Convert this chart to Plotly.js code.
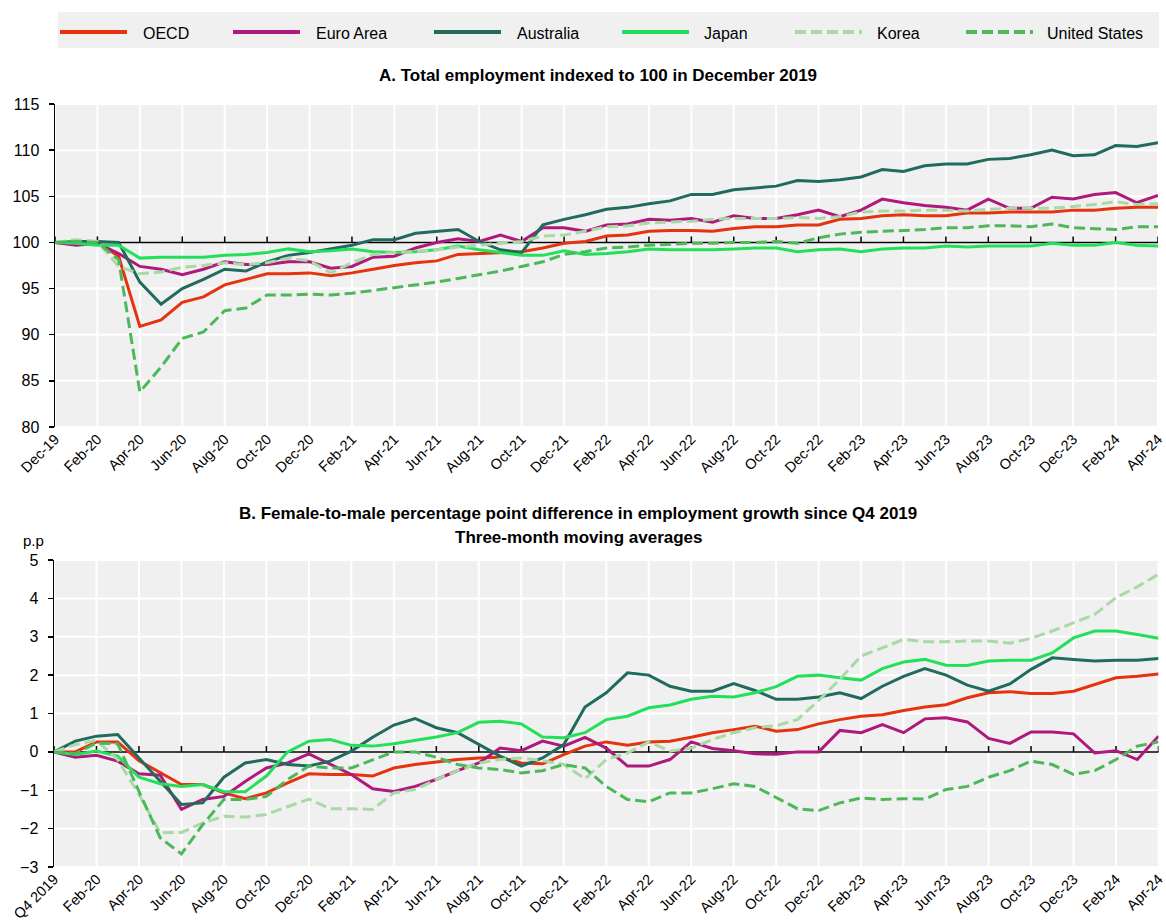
<!DOCTYPE html>
<html>
<head>
<meta charset="utf-8">
<script src="https://cdn.plot.ly/plotly-3.0.1.min.js"></script>
<style>html,body{margin:0;padding:0;background:#fff;}#chart{width:1166px;height:922px;}</style>
</head>
<body>
<div id="chart"></div>
<script>
// ---------- DATA ----------
const months = ['Dec-19','Jan-20','Feb-20','Mar-20','Apr-20','May-20','Jun-20','Jul-20','Aug-20','Sep-20','Oct-20','Nov-20','Dec-20',
  'Jan-21','Feb-21','Mar-21','Apr-21','May-21','Jun-21','Jul-21','Aug-21','Sep-21','Oct-21','Nov-21','Dec-21',
  'Jan-22','Feb-22','Mar-22','Apr-22','May-22','Jun-22','Jul-22','Aug-22','Sep-22','Oct-22','Nov-22','Dec-22',
  'Jan-23','Feb-23','Mar-23','Apr-23','May-23','Jun-23','Jul-23','Aug-23','Sep-23','Oct-23','Nov-23','Dec-23',
  'Jan-24','Feb-24','Mar-24','Apr-24'];
const tickLabelsA = ['Dec-19','Feb-20','Apr-20','Jun-20','Aug-20','Oct-20','Dec-20','Feb-21','Apr-21','Jun-21','Aug-21','Oct-21','Dec-21',
  'Feb-22','Apr-22','Jun-22','Aug-22','Oct-22','Dec-22','Feb-23','Apr-23','Jun-23','Aug-23','Oct-23','Dec-23','Feb-24','Apr-24'];
const tickLabelsB = ['Q4 2019','Feb-20','Apr-20','Jun-20','Aug-20','Oct-20','Dec-20','Feb-21','Apr-21','Jun-21','Aug-21','Oct-21','Dec-21',
  'Feb-22','Apr-22','Jun-22','Aug-22','Oct-22','Dec-22','Feb-23','Apr-23','Jun-23','Aug-23','Oct-23','Dec-23','Feb-24','Apr-24'];
const yTicksA = [80, 85, 90, 95, 100, 105, 110, 115];
const yTicksB = [-3, -2, -1, 0, 1, 2, 3, 4, 5];

const seriesNames = ['OECD','Euro Area','Australia','Japan','Korea','United States'];

// Panel A: total employment, index Dec 2019 = 100
const oecdA = [100,99.9,100,98.5,90.9,91.6,93.5,94.1,95.4,96.0,96.6,96.6,96.7,96.4,96.7,97.1,97.5,
  97.8,98.0,98.7,98.8,98.9,99.0,99.4,99.9,100.1,100.7,100.8,101.2,101.3,101.3,101.2,101.5,101.7,101.7,
  101.9,101.9,102.5,102.6,102.9,103.0,102.9,102.9,103.2,103.2,103.3,103.3,103.3,103.5,103.5,103.7,103.8,103.8];
const euroA = [100,99.7,99.9,98.8,97.4,97.1,96.5,97.1,97.9,97.6,97.6,97.9,97.9,97.2,97.4,98.4,98.5,
  99.4,100.0,100.4,100.1,100.8,100.1,101.6,101.6,101.2,101.9,102.0,102.5,102.4,102.6,102.2,102.9,102.6,102.6,
  103.0,103.5,102.8,103.5,104.7,104.3,104.0,103.8,103.5,104.7,103.7,103.7,104.9,104.7,105.2,105.4,104.3,105.1];
const australiaA = [100,100.1,100.1,100.0,95.7,93.3,95.0,96.0,97.1,96.9,97.9,98.6,98.9,99.3,99.7,100.3,100.3,
  101.0,101.2,101.4,100.1,99.2,98.9,101.9,102.5,103.0,103.6,103.8,104.2,104.5,105.2,105.2,105.7,105.9,106.1,
  106.7,106.6,106.8,107.1,107.9,107.7,108.3,108.5,108.5,109.0,109.1,109.5,110.0,109.4,109.5,110.5,110.4,110.8];
const japanA = [100,99.9,99.7,99.7,98.3,98.4,98.4,98.4,98.6,98.7,98.9,99.3,99.0,99.1,99.3,99.0,98.9,
  99.0,99.2,99.6,99.2,98.9,98.6,98.6,99.1,98.7,98.8,99.0,99.3,99.2,99.2,99.2,99.3,99.4,99.4,
  99.0,99.2,99.3,99.0,99.3,99.4,99.4,99.6,99.5,99.6,99.6,99.6,99.9,99.7,99.7,100.0,99.7,99.6];
const koreaA = [100,100.3,100.1,97.4,96.6,96.8,97.3,97.5,97.8,97.6,97.8,98.3,98.0,96.7,97.8,98.7,98.9,
  99.0,99.2,99.5,99.7,99.9,100.1,100.7,100.8,101.2,101.7,101.8,102.1,102.2,102.3,102.5,102.6,102.6,102.6,
  102.7,102.6,102.8,103.3,103.4,103.4,103.5,103.5,103.4,103.6,103.7,103.7,103.7,103.9,104.1,104.4,104.1,104.2];
const usA = [100,100.1,100.0,98.1,83.8,86.5,89.6,90.3,92.6,92.9,94.3,94.3,94.4,94.3,94.5,94.8,95.1,
  95.4,95.7,96.1,96.5,96.9,97.4,97.9,98.7,99.0,99.4,99.5,99.7,99.8,99.9,99.9,100.0,100.0,100.1,
  99.9,100.5,100.9,101.1,101.2,101.3,101.4,101.6,101.6,101.8,101.8,101.7,102.0,101.6,101.5,101.4,101.7,101.7];

// Panel B: female-to-male p.p. difference, 3-month moving averages
const oecdB = [0,0.0,0.26,0.26,-0.23,-0.55,-0.85,-0.85,-1.07,-1.22,-1.07,-0.81,-0.57,-0.59,-0.59,-0.63,-0.42,
  -0.33,-0.26,-0.2,-0.16,-0.14,-0.29,-0.31,-0.07,0.15,0.26,0.17,0.26,0.28,0.38,0.50,0.58,0.67,0.54,
  0.58,0.73,0.84,0.93,0.97,1.08,1.17,1.23,1.41,1.54,1.57,1.52,1.52,1.58,1.76,1.93,1.97,2.03];
const euroB = [0,-0.14,-0.09,-0.24,-0.57,-0.61,-1.50,-1.24,-1.16,-0.77,-0.42,-0.29,-0.05,-0.33,-0.59,-0.96,-1.03,
  -0.9,-0.72,-0.49,-0.29,0.1,0.03,0.28,0.15,0.38,0.1,-0.37,-0.37,-0.2,0.26,0.09,0.03,-0.05,-0.06,
  0.0,0.0,0.56,0.50,0.71,0.50,0.86,0.89,0.78,0.35,0.22,0.52,0.52,0.47,-0.03,0.03,-0.2,0.41];
const australiaB = [0,0.28,0.41,0.45,-0.16,-0.77,-1.37,-1.33,-0.66,-0.29,-0.2,-0.33,-0.37,-0.24,0.02,0.38,0.70,
  0.87,0.63,0.50,0.19,-0.11,-0.37,-0.16,0.19,1.17,1.54,2.06,2.0,1.71,1.58,1.58,1.78,1.6,1.37,
  1.37,1.43,1.54,1.39,1.71,1.97,2.17,2.0,1.74,1.58,1.77,2.15,2.45,2.41,2.37,2.39,2.39,2.43];
const japanB = [0,-0.07,0.02,-0.11,-0.66,-0.83,-0.90,-0.85,-1.04,-1.04,-0.63,0.0,0.28,0.32,0.17,0.15,0.21,
  0.3,0.39,0.50,0.77,0.8,0.73,0.39,0.37,0.50,0.84,0.93,1.15,1.22,1.37,1.45,1.43,1.54,1.7,
  1.97,2.0,1.93,1.87,2.17,2.34,2.41,2.26,2.25,2.37,2.39,2.39,2.58,2.97,3.15,3.15,3.06,2.96];
const koreaB = [0,0.19,0.3,-0.2,-1.11,-2.11,-2.10,-1.85,-1.68,-1.70,-1.63,-1.42,-1.23,-1.48,-1.48,-1.50,-1.07,
  -0.98,-0.72,-0.49,-0.29,-0.2,-0.16,-0.23,-0.33,-0.70,-0.2,-0.03,0.26,0.02,0.1,0.32,0.5,0.63,0.68,
  0.84,1.34,1.89,2.5,2.71,2.93,2.87,2.87,2.89,2.89,2.83,2.96,3.15,3.37,3.58,4.02,4.30,4.63];
const usB = [0,-0.05,0.23,0.21,-1.03,-2.24,-2.66,-1.90,-1.24,-1.24,-1.16,-0.72,-0.37,-0.42,-0.42,-0.2,0.0,
  0.0,-0.14,-0.33,-0.42,-0.46,-0.55,-0.49,-0.33,-0.42,-0.9,-1.24,-1.30,-1.07,-1.07,-0.96,-0.83,-0.9,-1.2,
  -1.48,-1.53,-1.33,-1.2,-1.24,-1.22,-1.23,-0.98,-0.9,-0.66,-0.49,-0.24,-0.33,-0.59,-0.49,-0.2,0.15,0.26];

// ---------- STYLE ----------
const W = 1166, H = 922;
const px = v => v / W;
const py = v => 1 - v / H;
const FONT = '"Liberation Sans", Arial, sans-serif';
const colors = ['#E5330E', '#B0197C', '#216B5E', '#22E05A', '#A9D9A4', '#4DB85A'];
const dashes = ['solid', 'solid', 'solid', 'solid', '11px,5px', '11px,5px'];
const panelA = [oecdA, euroA, australiaA, japanA, koreaA, usA];
const panelB = [oecdB, euroB, australiaB, japanB, koreaB, usB];
const monthsB = months.map((m, i) => i === 0 ? tickLabelsB[0] : m);

const traces = [];
seriesNames.forEach((name, k) => {
  traces.push({x: months, y: panelA[k], xaxis: 'x', yaxis: 'y', type: 'scatter', mode: 'lines', name: name,
    showlegend: false, line: {color: colors[k], width: 3, dash: dashes[k]}});
});
seriesNames.forEach((name, k) => {
  traces.push({x: monthsB, y: panelB[k], xaxis: 'x2', yaxis: 'y2', type: 'scatter', mode: 'lines', name: name,
    showlegend: false, line: {color: colors[k], width: 3, dash: dashes[k]}});
});

const shapes = [];
const annotations = [];
// grid (white), then baseline (100 / 0) with upward ticks, all beneath the traces
function panelDecor(xref, yref, yTicks, cats, yval) {
  yTicks.forEach(v => shapes.push({type: 'line', xref: xref + ' domain', yref: yref, x0: 0, x1: 1, y0: v, y1: v,
    line: {color: '#FFFFFF', width: 2}, layer: 'below'}));
  cats.forEach(c => shapes.push({type: 'line', xref: xref, yref: yref + ' domain', x0: c, x1: c, y0: 0, y1: 1,
    line: {color: '#FFFFFF', width: 2}, layer: 'below'}));
  shapes.push({type: 'line', xref: xref + ' domain', yref: yref, x0: 0, x1: 1, y0: yval, y1: yval,
    line: {color: '#000', width: 1.5}, layer: 'below'});
  cats.forEach(c => shapes.push({type: 'line', xref: xref, yref: yref, x0: c, x1: c,
    ysizemode: 'pixel', yanchor: yval, y0: 0, y1: 6, line: {color: '#000', width: 1.5}, layer: 'below'}));
}
panelDecor('x', 'y', yTicksA, tickLabelsA, 100);
panelDecor('x2', 'y2', yTicksB, tickLabelsB, 0);

// custom legend
shapes.push({type: 'rect', xref: 'paper', yref: 'paper', x0: px(58), x1: px(1159), y0: py(48), y1: py(12),
  fillcolor: '#F0F0F0', line: {width: 0}, layer: 'below'});
const legLineStart = [60, 233, 434, 622, 795, 966];
const legTextStart = [141, 314, 515, 702, 875, 1045];
seriesNames.forEach((name, k) => {
  shapes.push({type: 'line', xref: 'paper', yref: 'paper', x0: px(legLineStart[k]), x1: px(legLineStart[k] + 67),
    y0: py(32), y1: py(32), line: {color: colors[k], width: 4, dash: dashes[k]}, layer: 'above'});
  annotations.push({xref: 'paper', yref: 'paper', x: px(legTextStart[k]), y: py(33), xanchor: 'left', yanchor: 'middle',
    text: name, showarrow: false, font: {family: FONT, size: 16, color: '#000'}});
});

// titles
const TSIZE = 17;
annotations.push({xref: 'paper', yref: 'paper', x: px(598), y: py(75), xanchor: 'center', yanchor: 'middle',
  text: '<b>A. Total employment indexed to 100 in December 2019</b>', showarrow: false,
  font: {family: FONT, size: TSIZE, color: '#000'}});
annotations.push({xref: 'paper', yref: 'paper', x: px(578), y: py(513), xanchor: 'center', yanchor: 'middle',
  text: '<b>B. Female-to-male percentage point difference in employment growth since Q4 2019</b>', showarrow: false,
  font: {family: FONT, size: TSIZE, color: '#000'}});
annotations.push({xref: 'paper', yref: 'paper', x: px(579), y: py(537), xanchor: 'center', yanchor: 'middle',
  text: '<b>Three-month moving averages</b>', showarrow: false,
  font: {family: FONT, size: TSIZE, color: '#000'}});
annotations.push({xref: 'paper', yref: 'paper', x: px(33), y: py(540), xanchor: 'center', yanchor: 'middle',
  text: 'p.p', showarrow: false, font: {family: FONT, size: 15, color: '#000'}});

const xCommon = {type: 'category', tickmode: 'array', tickangle: -45, showgrid: false,
  showline: false, ticks: '', zeroline: false, tickfont: {family: FONT, size: 14.5, color: '#000'}, fixedrange: true};
const yCommon = {showgrid: false, zeroline: false, showline: true, linecolor: '#000',
  linewidth: 1.5, ticks: 'outside', ticklen: 5, tickcolor: '#000', tickwidth: 1.5, ticklabelstandoff: 6,
  tickfont: {family: FONT, size: 16, color: '#000'}, fixedrange: true};

const layout = {
  width: W, height: H,
  margin: {l: 0, r: 0, t: 0, b: 0},
  paper_bgcolor: '#FFFFFF', plot_bgcolor: '#F0F0F0',
  font: {family: FONT, size: 16, color: '#000'},
  showlegend: false,
  xaxis: Object.assign({}, xCommon, {domain: [px(55), px(1158)], anchor: 'y', categoryorder: 'array', categoryarray: months,
    range: [0, 52], tickvals: tickLabelsA, ticktext: tickLabelsA}),
  yaxis: Object.assign({}, yCommon, {domain: [py(427), py(104)], anchor: 'x', range: [80, 115],
    tickmode: 'array', tickvals: yTicksA}),
  xaxis2: Object.assign({}, xCommon, {domain: [px(54), px(1158.5)], anchor: 'y2', categoryorder: 'array', categoryarray: monthsB,
    range: [0, 52], tickvals: tickLabelsB, ticktext: tickLabelsB}),
  yaxis2: Object.assign({}, yCommon, {domain: [py(867), py(560)], anchor: 'x2', range: [-3, 5],
    tickmode: 'array', tickvals: yTicksB}),
  shapes: shapes,
  annotations: annotations
};

Plotly.newPlot('chart', traces, layout, {displayModeBar: false, staticPlot: true});
</script>
</body>
</html>
